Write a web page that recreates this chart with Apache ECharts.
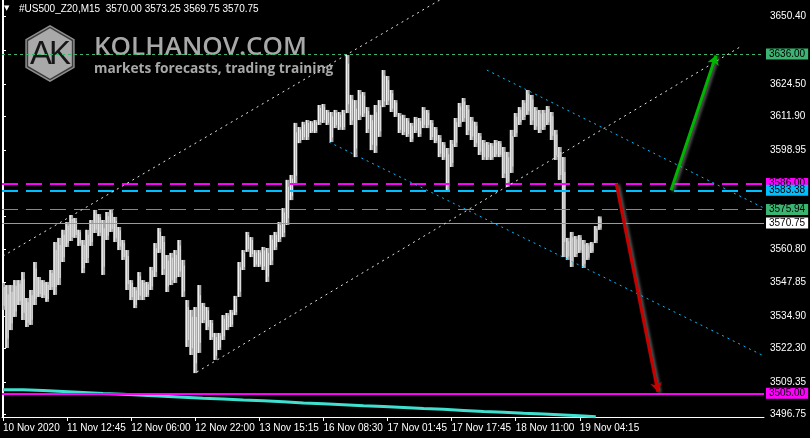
<!DOCTYPE html>
<html><head><meta charset="utf-8">
<script src="https://cdn.jsdelivr.net/npm/echarts@6/dist/echarts.min.js"></script>
<style>html,body{margin:0;padding:0;background:#000;}#c{width:810px;height:438px;}</style>
</head><body><div id="c"></div>
<script>
// ---- data ----
const timeLabels = ['10 Nov 2020','11 Nov 12:45','12 Nov 06:00','12 Nov 22:00','13 Nov 15:15','16 Nov 08:30','17 Nov 01:45','17 Nov 17:45','18 Nov 11:00','19 Nov 04:15'];
const timeTickIdx = [0,16,32,48,64,80,96,112,128,144];
const priceTicks = [3650.40,3637.45,3624.50,3611.90,3598.95,3586.00,3573.40,3560.80,3547.85,3534.90,3522.30,3509.35,3496.75];
const priceTickLabels = [3650.40,3624.50,3611.90,3598.95,3560.80,3547.85,3534.90,3522.30,3509.35,3496.75];

const barHigh = [3547.6,3546.8,3546.8,3548.7,3548.7,3551.8,3541.8,3544.9,3555.7,3549.9,
3548.7,3548.0,3552.6,3563.4,3565.0,3568.1,3571.1,3573.8,3572.7,3568.1,
3564.2,3568.1,3571.9,3575.8,3574.2,3571.9,3575.0,3575.8,3573.1,3569.2,
3564.2,3560.3,3548.7,3546.0,3551.8,3548.7,3548.0,3553.8,3563.0,3568.8,
3565.7,3558.4,3559.2,3560.3,3564.2,3556.5,3541.0,3537.2,3538.3,3546.8,
3539.9,3538.3,3533.3,3528.3,3528.3,3535.2,3536.0,3537.2,3542.6,3555.7,
3560.3,3567.3,3565.3,3560.3,3560.3,3561.5,3561.1,3566.1,3567.3,3571.1,
3576.5,3587.4,3589.3,3609.4,3607.8,3609.8,3610.5,3610.1,3610.5,3616.3,
3616.7,3614.4,3613.6,3614.4,3613.6,3614.4,3635.6,3620.2,3618.2,3622.1,
3621.3,3615.5,3612.5,3616.3,3618.2,3629.8,3627.5,3622.1,3618.2,3613.2,
3612.5,3611.3,3609.4,3611.7,3611.3,3615.5,3614.4,3610.5,3607.8,3604.7,
3602.0,3599.7,3602.8,3611.3,3617.1,3619.0,3616.3,3611.7,3609.8,3605.5,
3602.8,3602.0,3601.6,3602.8,3602.4,3600.1,3598.2,3606.7,3613.2,3615.5,
3618.2,3622.1,3620.2,3615.5,3614.4,3614.4,3615.9,3613.6,3606.7,3600.1,
3596.2,3565.0,3567.3,3565.7,3566.1,3564.2,3563.0,3563.4,3569.6,3573.3];

const barLow = [3537.2,3522.5,3529.4,3534.5,3539.1,3533.3,3530.6,3531.4,3539.1,3542.2,
3541.8,3540.3,3544.9,3543.0,3546.8,3555.7,3561.5,3563.8,3565.0,3561.9,
3551.4,3555.3,3561.9,3566.9,3565.7,3550.7,3564.2,3567.3,3563.4,3560.3,
3556.5,3544.9,3541.0,3537.9,3541.0,3541.0,3542.2,3544.9,3549.9,3559.2,
3550.7,3544.1,3546.8,3547.6,3549.9,3542.2,3522.9,3519.8,3512.8,3520.6,
3532.1,3529.4,3525.6,3517.9,3521.7,3525.6,3529.4,3530.6,3535.2,3542.2,
3552.6,3559.6,3557.6,3553.8,3553.8,3552.6,3548.0,3554.5,3560.3,3563.4,
3565.3,3570.0,3579.6,3585.4,3601.6,3602.8,3602.8,3605.5,3605.5,3608.6,
3609.4,3608.6,3602.0,3607.4,3606.7,3606.7,3613.2,3608.6,3596.2,3610.5,
3611.7,3605.5,3598.9,3597.8,3604.0,3615.5,3616.3,3613.6,3611.7,3605.5,
3604.7,3604.0,3602.0,3605.5,3604.0,3607.4,3607.4,3602.8,3601.6,3596.2,
3595.1,3583.5,3592.4,3600.1,3607.8,3609.8,3604.7,3602.8,3600.1,3597.0,
3595.1,3595.1,3595.1,3596.2,3596.2,3588.1,3584.7,3590.1,3604.0,3608.6,
3610.5,3612.5,3608.6,3606.7,3605.5,3606.7,3608.6,3602.8,3595.1,3587.4,
3557.6,3556.5,3553.8,3557.6,3559.2,3553.4,3556.5,3559.2,3563.0,3568.1];

const cyanIdx = [0,5,10,15,20,25,30,35,40,45,50,55,60,65,70,75,80,85,90,95,100,105,110,115,120,125,130,135,140,145,148];
const cyanVals = [3506.4,3506.1,3505.7,3505.3,3504.9,3504.6,3504.2,3503.9,3503.5,3503.1,3502.8,3502.4,3502.1,3501.7,3501.3,3501.0,3500.6,3500.2,3499.9,3499.5,3499.1,3498.8,3498.4,3498.0,3497.7,3497.3,3497.0,3496.6,3496.2,3495.9,3495.7];

const levelPrices = [3636.00, 3586.00, 3583.38, 3575.94, 3570.75, 3505.00];
const levelLabels = ['3636.00','3586.00','3583.38','3575.94','3570.75','3505.00'];

const whiteUpperLine = [[0, 3558.0], [110, 3657.7]];
const whiteLowerLine = [[48.4, 3513.2], [184, 3638.7]];
const cyanUpperLine = [[120.8, 3629.8], [190, 3576.5]];
const cyanLowerLine = [[81.4, 3602.0], [190, 3519.4]];
const greenArrow = [[166.8, 3583.38], [178.0, 3635.4]];
const redArrow = [[153.1, 3586.0], [163.5, 3505.6]];

// ---- styles ----
const FONT = 'Liberation Sans';
const levelStyles = [
  {color:'#3CB371', width:1, type:[3,3], bg:'#3CB371', fg:'#000'},
  {color:'#FF00FF', width:2, type:[16,8], bg:'#FF00FF', fg:'#000'},
  {color:'#00BFFF', width:2, type:[16,8], bg:'#00BFFF', fg:'#000'},
  {color:'#3CB371', width:1, type:[16,8], bg:'#3CB371', fg:'#000'},
  {color:'#9a9a9a', width:1, type:'solid', bg:'#ffffff', fg:'#000'},
  {color:'#FF00FF', width:2, type:'solid', bg:'#FF00FF', fg:'#000'}
];

const chart = echarts.init(document.getElementById('c'), null, {renderer:'canvas'});

const barData = barHigh.map((h, i) => [i, barLow[i], h]);
const cyanData = cyanIdx.map((x, i) => [x, cyanVals[i]]);

function hexPts(cx, cy, r){
  const p = [];
  for (let k = 0; k < 6; k++){ const a = Math.PI/180*(60*k - 90); p.push([cx + r*Math.cos(a), cy + r*Math.sin(a)]); }
  return p;
}

function trend(data, color){
  return {type:'line', data: data, showSymbol:false, symbol:'none', silent:true, zlevel:1, z:4,
    lineStyle:{color: color, width:1, type:[2,4]}, clip:true};
}

const option = {
  backgroundColor:'#000',
  animation:false,
  grid:{left:2, right:46, top:0, bottom:21, containLabel:false},
  xAxis:{type:'value', min:-0.25, max:190,
    axisLine:{show:true, lineStyle:{color:'#fff', width:1}},
    axisTick:{show:true, length:4, customValues: timeTickIdx, lineStyle:{color:'#fff'}},
    axisLabel:{customValues: timeTickIdx, color:'#fff', fontSize:10, fontFamily:FONT, align:'left', margin:6,
      formatter: v => { const k = timeTickIdx.indexOf(Math.round(v)); return k >= 0 ? timeLabels[k] : ''; }},
    splitLine:{show:false}},
  yAxis:[
    {type:'value', position:'right', min:3495.85, max:3656.85,
      axisLine:{show:true, lineStyle:{color:'#fff', width:1}},
      axisTick:{show:true, length:3, customValues: priceTicks, lineStyle:{color:'#fff'}},
      axisLabel:{customValues: priceTickLabels, color:'#fff', fontSize:10, fontFamily:FONT, margin:6,
        formatter: v => v.toFixed(2)},
      splitLine:{show:false}},
    {type:'value', position:'left', min:3495.85, max:3656.85,
      axisLine:{show:true, onZero:false, lineStyle:{color:'#fff', width:1}},
      axisTick:{show:false}, axisLabel:{show:false}, splitLine:{show:false}}
  ],
  graphic:[
    {type:'text', left:4, top:5, z:10, style:{text:'▼', fill:'#fff', fontSize:7, fontFamily:'DejaVu Sans'}},
    {type:'text', left:19, top:4, z:10, style:{text:'#US500_Z20,M15  3570.00 3573.25 3569.75 3570.75', fill:'#fff', fontSize:10, fontFamily:FONT}},
    {type:'polygon', z:1, shape:{points: hexPts(50, 53.5, 28.5)}, style:{fill:'#8f8f8f'}},
    {type:'polygon', z:1, shape:{points: hexPts(50, 53.5, 26.8)}, style:{fill:'#3a3a3a'}},
    {type:'polygon', z:1, shape:{points: hexPts(50, 53.5, 25.2)}, style:{fill:'#a9a9a9'}},
    {type:'text', z:1, x:41, y:55, style:{text:'A', fill:'#161616', fontSize:33, fontFamily:FONT, align:'center', verticalAlign:'middle'}},
    {type:'text', z:1, x:60, y:55, style:{text:'K', fill:'#161616', fontSize:33, fontFamily:FONT, align:'center', verticalAlign:'middle'}},
    {type:'text', z:1, x:94, y:48, style:{text:'KOLHANOV.COM', fill:'#a8a8a8', fontSize:26, fontWeight:600, fontFamily:'Open Sans', verticalAlign:'middle'}},
    {type:'text', z:1, x:94, y:69, style:{text:'markets forecasts, trading training', fill:'#a8a8a8', fontSize:13.7, fontWeight:700, fontFamily:'Open Sans', verticalAlign:'middle'}}
  ],
  series:[
    {type:'line', data: cyanData, step:'end', showSymbol:false, symbol:'none', silent:true, z:2,
      lineStyle:{color:'#40E0D0', width:3}, clip:true},
    {type:'custom', data: barData, z:3, silent:true, clip:true,
      renderItem: function(params, api){
        const x = api.value(0), lo = api.value(1), hi = api.value(2);
        const p1 = api.coord([x, hi]);
        const p2 = api.coord([x, lo]);
        const w = api.size([1, 0])[0];
        const h = Math.max(1, p2[1] - p1[1]);
        return {type:'group', children:[
          {type:'rect', shape:{x: p1[0] - w/2, y: p1[1], width: w, height: h}, style:{fill:'#a8a8a8'}},
          {type:'rect', shape:{x: p1[0] - w/2 + 0.5, y: p1[1], width: 1.2, height: h}, style:{fill:'#f2f2f2'}},
          {type:'rect', shape:{x: p1[0] + 0.6, y: p1[1] + h*0.15, width: 1, height: h*0.7}, style:{fill:'#e0e0e0'}}
        ]};
      }},
    {type:'line', data: [], zlevel:1, z:3, silent:true,
      markLine:{silent:true, symbol:['none','none'], animation:false,
        data: levelPrices.map((p, i) => ({yAxis: p,
          lineStyle:{color: levelStyles[i].color, width: levelStyles[i].width, type: levelStyles[i].type},
          label:{show:true, position:'end', distance:2, formatter: levelLabels[i],
            backgroundColor: levelStyles[i].bg, color: levelStyles[i].fg, fontSize:10, fontFamily:FONT,
            padding:[1,3,0,3]}}))}},
    trend(whiteUpperLine, '#e6e6e6'),
    trend(whiteLowerLine, '#e6e6e6'),
    trend(cyanUpperLine, '#00BFFF'),
    trend(cyanLowerLine, '#00BFFF'),
    {type:'lines', coordinateSystem:'cartesian2d', zlevel:1, z:6, silent:true,
      symbol:['none','arrow'], symbolSize:9,
      data:[
        {coords: greenArrow, lineStyle:{color:'#00B400'}},
        {coords: redArrow, lineStyle:{color:'#C80000'}}
      ],
      lineStyle:{width:3, opacity:1, curveness:0, shadowColor:'rgba(140,140,140,0.7)', shadowBlur:3, shadowOffsetX:2, shadowOffsetY:1}}
  ]
};
chart.setOption(option);
</script></body></html>
